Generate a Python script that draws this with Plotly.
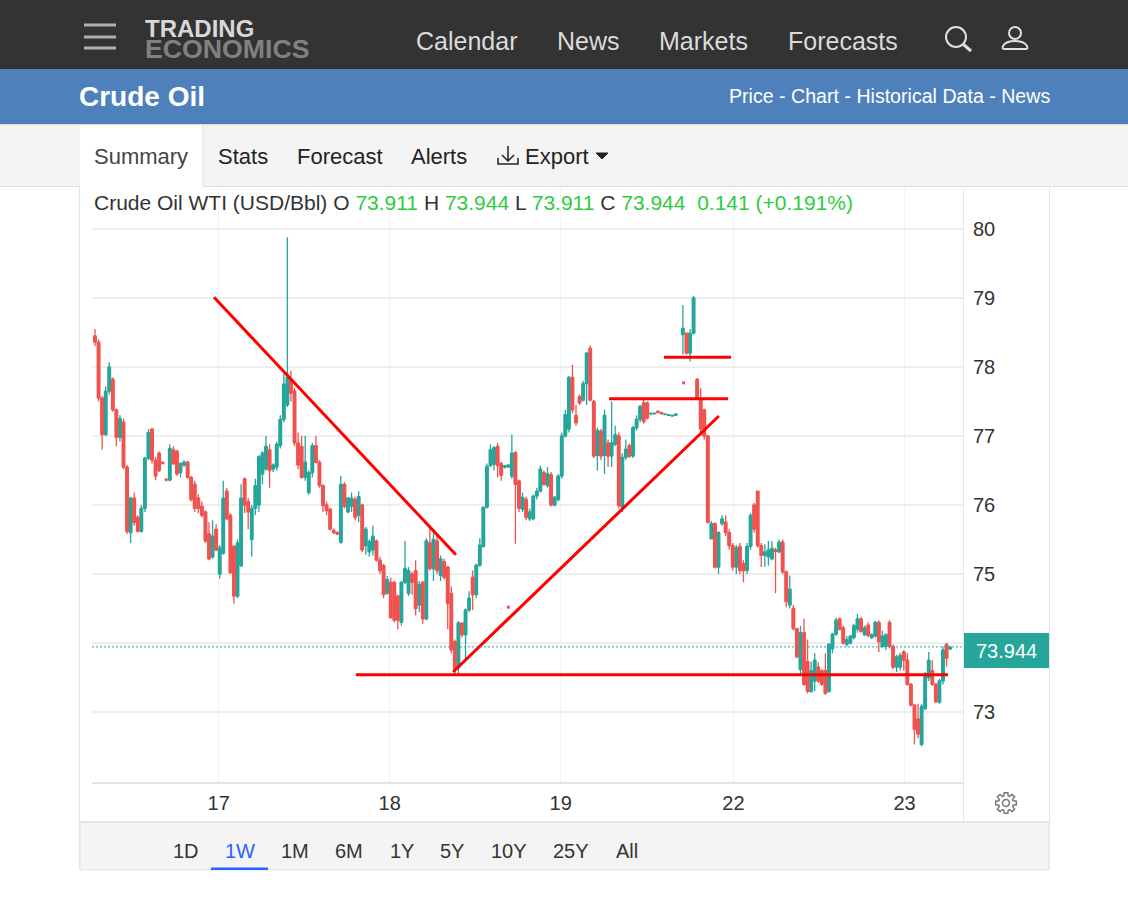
import numpy as np
import plotly.graph_objects as go

# 30 minute WTI bars. None = gap in the feed
opens = [
    78.45, 78.36, 77.55, 77.02, 77.65, 77.82, 77.38, 76.98, 77.20, 76.55,
    75.60, 76.10, 75.82, 75.62, 75.95, 76.68, 77.10, 76.65, 76.75, 76.62,
    76.37, 76.36, 76.80, 76.78, 76.47, 76.58, 76.62, 76.40, 76.30, 76.10,
    75.98, 75.90, 75.58, 75.25, 75.65, 75.00, 75.30, 76.20, 75.85, 75.40,
    74.68, 75.12, 76.38, 76.05, 75.50, 75.95, 76.00, 76.45, 76.52, 76.80,
    76.52, 76.55, 76.86, 77.24, 77.45, 77.82, 77.65, 76.90, 76.85, 76.40,
    76.18, 76.47, 76.86, 76.62, 76.28, 76.00, 75.94, 75.63, 75.60, 75.46,
    76.30, 75.90, 75.98, 76.08, 75.85, 76.00, 75.41, 75.32, 75.35, 75.48,
    75.20, 75.12, 74.72, 74.88, 74.88, 74.68, 74.30, 74.88, 74.72, 75.00,
    75.05, 74.55, 74.88, 74.35, 75.45, 75.08, 75.48, 74.98, 75.18, 75.10,
    74.72, 74.02, 73.64, 74.29, 74.12, 74.48, 74.95, 74.70, 75.13, 75.40,
    75.97, 76.57, 76.59, 76.85, 76.60, 76.55, 76.55, 76.42, 76.76, 76.35,
    75.94, 76.08, 75.80, 75.80, 76.13, 76.20, 76.47, 76.28, 76.44, 76.00,
    76.08, 76.42, 77.00, 77.10, 77.85, 77.30, 77.57, 77.52, 77.76, 78.27,
    77.50, 76.72, 77.07, 76.72, 76.90, 76.71, 76.88, 77.00, 75.97, 76.69,
    76.86, 76.71, 77.12, 77.24, 77.48, 77.48, 77.32, 77.32, 77.36, 77.34,
    77.31, 77.30, 77.29, 77.30, None, 78.47, 78.49, 78.20, 78.49, 77.82,
    77.55, 77.38, 77.00, 75.51, 75.73, 75.10, 75.73, 75.75, 75.60, 75.41,
    75.10, 75.40, 75.15, 75.05, 75.40, 76.00, 76.20, 75.41, 75.27, 75.25,
    75.22, 75.35, 75.32, 75.46, 75.03, 74.55, 74.50, 74.21, 73.62, 74.15,
    73.73, 73.30, 73.45, 73.65, 73.60, 73.60, 73.30, 73.92, 74.13, 74.35,
    74.22, 73.98, 74.00, 74.08, 74.20, 74.35, 74.12, 74.26, 74.08, 74.10,
    74.30, 73.95, 73.95, 74.30, 73.95, 73.65, 73.65, 73.87, 73.75, 73.40,
    73.10, 72.90, 72.53, 73.05, 73.50, 73.60, 73.40, 73.14, 73.45, 73.98,
    73.911,
]
highs = [
    78.55, 78.40, 77.58, 77.72, 78.07, 77.85, 77.40, 77.30, 77.25, 76.58,
    76.12, 76.18, 75.85, 76.00, 76.70, 77.10, 77.12, 76.70, 76.78, 76.63,
    76.39, 76.88, 76.85, 76.80, 76.62, 76.65, 76.64, 76.42, 76.35, 76.16,
    76.05, 75.92, 75.75, 75.78, 75.72, 75.42, 76.35, 76.25, 75.88, 75.42,
    75.50, 76.30, 76.40, 76.10, 76.00, 76.38, 76.72, 76.78, 77.00, 76.88,
    76.60, 76.92, 77.30, 77.90, 79.88, 77.95, 77.70, 77.05, 77.00, 77.00,
    76.50, 76.90, 77.00, 76.65, 76.30, 76.05, 75.96, 75.66, 75.62, 76.42,
    76.33, 76.12, 76.18, 76.12, 76.20, 76.02, 75.68, 75.50, 75.70, 75.50,
    75.25, 75.15, 74.97, 74.95, 74.90, 74.70, 74.90, 75.48, 75.10, 75.03,
    75.20, 74.90, 74.90, 75.52, 75.68, 75.65, 75.58, 75.27, 75.22, 75.12,
    74.82, 74.05, 74.32, 74.30, 74.50, 74.75, 75.05, 75.15, 75.52, 75.98,
    76.60, 76.88, 76.85, 76.90, 76.63, 76.58, 76.59, 77.02, 76.78, 76.37,
    76.18, 76.12, 75.95, 76.15, 76.25, 76.57, 76.50, 76.55, 76.48, 76.13,
    76.45, 77.05, 77.38, 77.87, 78.03, 77.45, 77.60, 77.80, 78.22, 78.31,
    77.52, 77.12, 77.10, 77.38, 76.95, 77.50, 77.15, 77.05, 76.75, 76.95,
    76.89, 77.15, 77.30, 77.45, 77.52, 77.50, 77.34, 77.34, 77.37, 77.35,
    77.33, 77.32, 77.31, 77.33, None, 78.90, 78.50, 78.55, 79.03, 77.84,
    77.70, 77.40, 77.02, 75.77, 75.75, 75.62, 75.85, 75.85, 75.65, 75.45,
    75.42, 75.45, 75.20, 75.45, 75.88, 76.03, 76.21, 75.45, 75.43, 75.48,
    75.48, 75.38, 75.50, 75.50, 75.05, 74.98, 74.55, 74.22, 74.25, 74.35,
    74.05, 73.73, 73.85, 73.72, 73.62, 73.85, 74.00, 74.15, 74.37, 74.37,
    74.25, 74.10, 74.12, 74.28, 74.42, 74.38, 74.25, 74.30, 74.14, 74.32,
    74.33, 74.18, 74.14, 74.33, 73.98, 73.83, 73.85, 73.90, 73.85, 73.42,
    73.12, 73.12, 73.12, 73.58, 73.87, 73.75, 73.42, 73.48, 73.95, 74.00,
    73.944,
]
lows = [
    78.30, 77.50, 76.80, 77.00, 77.60, 77.35, 76.85, 76.92, 76.52, 75.58,
    75.45, 75.70, 75.60, 75.60, 75.90, 76.65, 76.60, 76.36, 76.48, 76.59,
    76.34, 76.34, 76.58, 76.42, 76.40, 76.55, 76.38, 76.05, 75.90, 75.88,
    75.82, 75.45, 75.20, 75.22, 75.33, 74.93, 75.28, 75.78, 75.00, 74.57,
    74.65, 75.10, 75.88, 75.65, 75.25, 75.85, 75.90, 76.30, 76.50, 76.25,
    76.48, 76.50, 76.82, 77.20, 77.42, 77.50, 76.85, 76.52, 76.38, 76.35,
    76.15, 76.40, 76.60, 76.25, 75.90, 75.85, 75.63, 75.58, 75.56, 75.44,
    75.95, 75.88, 75.90, 75.78, 75.75, 75.32, 75.28, 75.25, 75.27, 75.18,
    75.00, 74.65, 74.70, 74.35, 74.30, 74.20, 74.25, 74.85, 74.68, 74.70,
    74.40, 74.45, 74.28, 74.33, 75.05, 74.90, 75.00, 74.90, 74.92, 74.20,
    73.85, 73.55, 73.55, 74.08, 73.77, 74.45, 74.48, 74.65, 75.10, 75.38,
    75.95, 76.55, 76.50, 76.40, 76.35, 76.53, 76.54, 76.38, 75.44, 75.90,
    75.90, 75.78, 75.77, 75.78, 76.08, 76.18, 76.28, 76.25, 75.98, 75.98,
    76.05, 76.38, 76.98, 77.05, 77.33, 77.15, 77.45, 77.50, 77.45, 77.50,
    76.68, 76.50, 76.65, 76.45, 76.55, 76.55, 76.85, 75.95, 75.90, 76.65,
    76.68, 76.68, 77.08, 77.20, 77.18, 77.24, 77.30, 77.31, 77.33, 77.31,
    77.30, 77.29, 77.28, 77.29, None, 78.18, 78.18, 78.08, 78.47, 77.55,
    77.00, 76.95, 75.73, 75.50, 75.08, 75.00, 75.70, 75.55, 75.35, 75.05,
    75.00, 75.00, 74.88, 75.00, 75.35, 75.60, 75.38, 75.10, 75.10, 75.12,
    75.20, 74.72, 75.30, 75.00, 74.52, 74.50, 74.18, 73.78, 73.53, 73.38,
    73.27, 73.28, 73.30, 73.42, 73.38, 73.25, 73.28, 73.85, 74.10, 74.18,
    73.98, 73.95, 73.98, 74.05, 74.15, 74.15, 74.10, 74.08, 74.06, 74.08,
    73.87, 73.93, 73.90, 73.92, 73.62, 73.58, 73.60, 73.60, 73.38, 73.08,
    72.53, 72.62, 72.50, 73.03, 73.45, 73.38, 73.13, 73.12, 73.40, 73.66,
    73.911,
]
closes = [
    78.36, 77.55, 77.02, 77.65, 78.00, 77.38, 76.98, 77.25, 76.55, 75.62,
    76.10, 75.75, 75.62, 75.95, 76.68, 77.05, 76.65, 76.42, 76.50, 76.60,
    76.36, 76.82, 76.60, 76.45, 76.60, 76.62, 76.40, 76.08, 75.95, 75.95,
    75.85, 75.48, 75.22, 75.55, 75.35, 75.38, 76.10, 75.80, 75.02, 74.68,
    75.45, 76.10, 76.00, 75.90, 75.95, 76.28, 76.70, 76.75, 76.85, 76.50,
    76.58, 76.88, 77.24, 77.75, 77.85, 77.62, 76.90, 76.58, 76.40, 76.62,
    76.47, 76.86, 76.62, 76.28, 75.99, 75.92, 75.65, 75.60, 75.58, 76.30,
    75.98, 76.10, 76.10, 75.82, 76.12, 75.35, 75.65, 75.47, 75.55, 75.20,
    75.05, 74.70, 74.92, 74.37, 74.33, 74.33, 74.88, 75.08, 75.05, 74.88,
    74.50, 74.85, 74.35, 75.48, 75.08, 75.50, 75.05, 75.22, 74.95, 74.57,
    73.90, 73.62, 74.29, 74.12, 74.48, 74.65, 74.70, 75.13, 75.42, 75.97,
    76.56, 76.80, 76.83, 76.57, 76.43, 76.57, 76.58, 76.75, 76.30, 75.95,
    76.11, 75.82, 75.90, 76.13, 76.20, 76.52, 76.30, 76.45, 76.00, 76.11,
    76.42, 77.00, 77.31, 77.85, 77.38, 77.19, 77.48, 77.76, 78.20, 77.52,
    76.71, 77.08, 76.71, 77.30, 76.71, 76.90, 77.02, 75.99, 76.69, 76.81,
    76.71, 77.12, 77.24, 77.43, 77.21, 77.26, 77.33, 77.33, 77.34, 77.32,
    77.32, 77.31, 77.30, 77.32, None, 78.56, 78.20, 78.49, 79.00, 77.55,
    77.10, 77.00, 75.75, 75.73, 75.10, 75.60, 75.80, 75.60, 75.41, 75.10,
    75.38, 75.05, 75.05, 75.40, 75.85, 75.65, 75.41, 75.27, 75.32, 75.35,
    75.37, 75.33, 75.46, 75.03, 74.60, 74.78, 74.21, 73.80, 74.15, 73.40,
    73.30, 73.60, 73.75, 73.45, 73.40, 73.27, 73.98, 74.13, 74.33, 74.20,
    74.00, 74.05, 74.10, 74.25, 74.35, 74.17, 74.22, 74.11, 74.12, 74.30,
    74.02, 74.10, 74.12, 73.95, 73.65, 73.80, 73.82, 73.75, 73.40, 73.10,
    72.75, 72.68, 73.08, 73.55, 73.75, 73.40, 73.15, 73.45, 73.90, 73.78,
    73.944,
]
bars = list(range(len(closes)))

day_bars = [34.7, 82.7, 130.7, 179.2, 227.2]
day_labels = ["17", "18", "19", "22", "23"]
price_ticks = [73, 74, 75, 76, 77, 78, 79, 80]
price_labels = ["73", "", "75", "76", "77", "78", "79", "80"]  # 74 sits behind the price box
last_price = 73.944

# trend lines somebody drew on top of the chart: bar, price
down_line_x = [33.4, 101.3]
down_line_y = [79.01, 75.28]
support_x = [73.2, 239.4]
support_y = [73.54, 73.54]
up_line_x = [100.5, 175.1]
up_line_y = [73.58, 77.29]
level_a_x = [144.3, 177.7]
level_a_y = [77.54, 77.54]
level_b_x = [159.7, 178.5]
level_b_y = [78.14, 78.14]
stray_x = [116, 165.2]
stray_y = [74.52, 77.77]

nav_items = ["Calendar", "News", "Markets", "Forecasts"]
nav_left = [416, 557, 659, 788]
tab_items = ["Stats", "Forecast", "Alerts", "Export"]
tab_left = [218, 297, 411, 525]
range_items = ["1D", "1W", "1M", "6M", "1Y", "5Y", "10Y", "25Y", "All"]
range_center = [186, 240, 295, 349, 402, 452, 509, 571, 627]

GREEN = "#26A69A"
RED = "#EF5350"
FONT = "Liberation Sans"
W, H = 1128, 900


def px(x):
    return x / W


def py(y):
    return 1 - y / H


fig = go.Figure()
# plotly candle bodies come out too thin here, so a thick vertical segment per bar carries the body
for want_up, colour in [(True, GREEN), (False, RED)]:
    seg_x, seg_y = [], []
    for b, o, c in zip(bars, opens, closes):
        if o is None or (c >= o) != want_up:
            continue
        seg_x += [b, b, None]
        seg_y += [o, c, None]
    fig.add_trace(go.Scatter(x=seg_x, y=seg_y, mode="lines", line=dict(color=colour, width=3.9),
                             hoverinfo="skip"))
fig.add_trace(go.Candlestick(
    x=bars, open=opens, high=highs, low=lows, close=closes,
    increasing=dict(line=dict(color=GREEN, width=1.3), fillcolor=GREEN),
    decreasing=dict(line=dict(color=RED, width=1.3), fillcolor=RED),
    whiskerwidth=0, hoverinfo="skip",
))

for lx, ly in [(down_line_x, down_line_y), (support_x, support_y), (up_line_x, up_line_y),
               (level_a_x, level_a_y), (level_b_x, level_b_y)]:
    fig.add_trace(go.Scatter(x=lx, y=ly, mode="lines", line=dict(color="#FF0000", width=3),
                             hoverinfo="skip"))
fig.add_trace(go.Scatter(x=stray_x, y=stray_y, mode="markers",
                         marker=dict(color=RED, size=3, symbol="square"), hoverinfo="skip"))

shapes = []


def rect(x0, y0, x1, y1, fill, line=None, layer="below"):
    shapes.append(dict(type="rect", xref="paper", yref="paper", x0=px(x0), x1=px(x1),
                       y0=py(y0), y1=py(y1), fillcolor=fill, layer=layer,
                       line=dict(color=line or fill, width=1 if line else 0)))


def seg(x0, y0, x1, y1, color, width=1, layer="below"):
    shapes.append(dict(type="line", xref="paper", yref="paper", x0=px(x0), x1=px(x1),
                       y0=py(y0), y1=py(y1), layer=layer, line=dict(color=color, width=width)))


def icon(path, color, width=2, fill="rgba(0,0,0,0)"):
    # path is written in page pixels, y downwards, turned into paper coords here
    out = []
    parts = path.split()
    i = 0
    while i < len(parts):
        if parts[i].isalpha():
            out.append(parts[i])
            i += 1
        else:
            out.append(f"{px(float(parts[i])):.5f},{py(float(parts[i + 1])):.5f}")
            i += 2
    shapes.append(dict(type="path", xref="paper", yref="paper", path=" ".join(out),
                       line=dict(color=color, width=width), fillcolor=fill, layer="above"))


def ring(cx, cy, r, color, width=2):
    shapes.append(dict(type="circle", xref="paper", yref="paper", x0=px(cx - r), x1=px(cx + r),
                       y0=py(cy + r), y1=py(cy - r), layer="above",
                       line=dict(color=color, width=width)))


notes = []


def text(x, y, s, size, color, anchor="left"):
    notes.append(dict(xref="paper", yref="paper", x=px(x), y=py(y), text=s, showarrow=False,
                      xanchor=anchor, yanchor="middle", align=anchor,
                      font=dict(family=FONT, size=size, color=color),
                      borderpad=0, borderwidth=0))


# page bands
rect(0, 0, W, 69, "#333333")
rect(0, 69, W, 124, "#4E81BC")
rect(0, 125, W, 186, "#F4F4F4")
rect(80, 125, 203, 187, "#FFFFFF")
seg(203, 125, 203, 186, "#DDDDDD")
seg(0, 124.5, W, 124.5, "#D8D8D8")
seg(0, 186.5, 80, 186.5, "#DDDDDD")
seg(203, 186.5, W, 186.5, "#DDDDDD")
rect(80, 822, 1049, 870, "#F4F4F4", "#E4E4E4")
seg(79.5, 187, 79.5, 870, "#E6E6E6")
seg(1049.5, 187, 1049.5, 870, "#E6E6E6")
seg(80, 822, 1049, 822, "#DFDFDF")
seg(963.5, 188, 963.5, 822, "#E8E8E8")
rect(211, 867.5, 268, 870, "#2962FF", layer="above")

# last price line and box
shapes.append(dict(type="line", xref="paper", yref="y", x0=px(92), x1=px(963),
                   y0=last_price, y1=last_price, layer="above",
                   line=dict(color=GREEN, width=1, dash="2px,2px")))
rect(964, 633, 1049, 668, GREEN)
text(1006, 651, f"{last_price:.3f}", 20, "#FFFFFF", "center")

# header icons
for yy in (25, 37, 48):
    seg(84, yy, 116, yy, "#B0B0B0", 3, "above")
ring(956, 37, 10, "#E0E0E0")
seg(963.5, 44.5, 971, 51, "#E0E0E0", 3, "above")
ring(1015, 33, 6, "#E0E0E0")
icon("M 1004 49 L 1026 49 Q 1028 49 1027 46 Q 1024 41 1015 41 Q 1006 41 1003 46 Q 1002 49 1004 49 Z",
     "#E0E0E0")
# export arrow and caret
icon("M 508 146 L 508 160 M 502 155 L 508 161 L 514 155", "#222222", 1.5)
icon("M 498 158 L 498 164 L 518 164 L 518 158", "#222222", 1.5)
icon("M 596 153 L 608 153 L 602 159 Z", "#222222", 1, "#222222")
# settings gear
gear = []
for k in range(8):
    a = k * np.pi / 4
    for da, r in [(-0.30, 7.5), (-0.17, 10.5), (0.17, 10.5), (0.30, 7.5)]:
        gear.append(f"{1006 + r * np.cos(a + da):.1f} {803 + r * np.sin(a + da):.1f}")
icon("M " + " L ".join(gear) + " Z", "#777777", 1.5)
ring(1006, 803, 3.5, "#777777", 1.5)

# logo is one text block so both lines stack tight like the original
logo = ('<b><span style="color:#D8D8D8;font-size:24px">TRADING</span><br>'
        '<span style="color:#808080;font-size:26.7px">ECONOMICS</span></b>')
text(145, 39.5, logo, 16, "#808080")
for name, left in zip(nav_items, nav_left):
    text(left, 41, name, 25, "#DADADA")
text(79, 97, "<b>Crude Oil</b>", 28, "#FFFFFF")
text(1050, 96, "Price - Chart - Historical Data - News", 19.6, "#FFFFFF", "right")
text(94, 156, "Summary", 22, "#444444")
for name, left in zip(tab_items, tab_left):
    text(left, 156, name, 22, "#222222")

g = '<span style="color:#2ECC40">%s</span>'
header = ("Crude Oil WTI (USD/Bbl) O " + g % "73.911" + " H " + g % "73.944" + " L " + g % "73.911"
          + " C " + g % "73.944" + "  " + g % "0.141 (+0.191%)")
text(94, 202, header, 21, "#333333")

for name, cx in zip(range_items, range_center):
    text(cx, 851, name, 20, "#2962FF" if name == "1W" else "#333333", "center")

fig.update_layout(
    width=W, height=H, margin=dict(l=0, r=0, t=0, b=0, pad=0),
    paper_bgcolor="#FFFFFF", plot_bgcolor="#FFFFFF", showlegend=False,
    shapes=shapes, annotations=notes, hovermode=False,
    xaxis=dict(domain=[px(92), px(963)], range=[-0.84, 243.62], rangeslider=dict(visible=False),
               tickmode="array", tickvals=day_bars, ticktext=day_labels, ticks="", showgrid=True,
               gridcolor="#F0F3FA", gridwidth=1, showline=True, linecolor="#E4E4E4", linewidth=2,
               zeroline=False, tickfont=dict(family=FONT, size=20, color="#333333"),
               ticklabelstandoff=2),
    yaxis=dict(domain=[py(782), py(188)], range=[71.986, 80.594], side="right", tickmode="array",
               tickvals=price_ticks, ticktext=price_labels, ticks="", showgrid=True,
               gridcolor="#EEEEEE", gridwidth=2, showline=False, zeroline=False,
               ticklabelstandoff=9, tickfont=dict(family=FONT, size=20, color="#333333")),
)

fig.write_html("out.html", config=dict(displayModeBar=False),
               post_script="document.body.style.margin='0';document.body.style.overflow='hidden';")
